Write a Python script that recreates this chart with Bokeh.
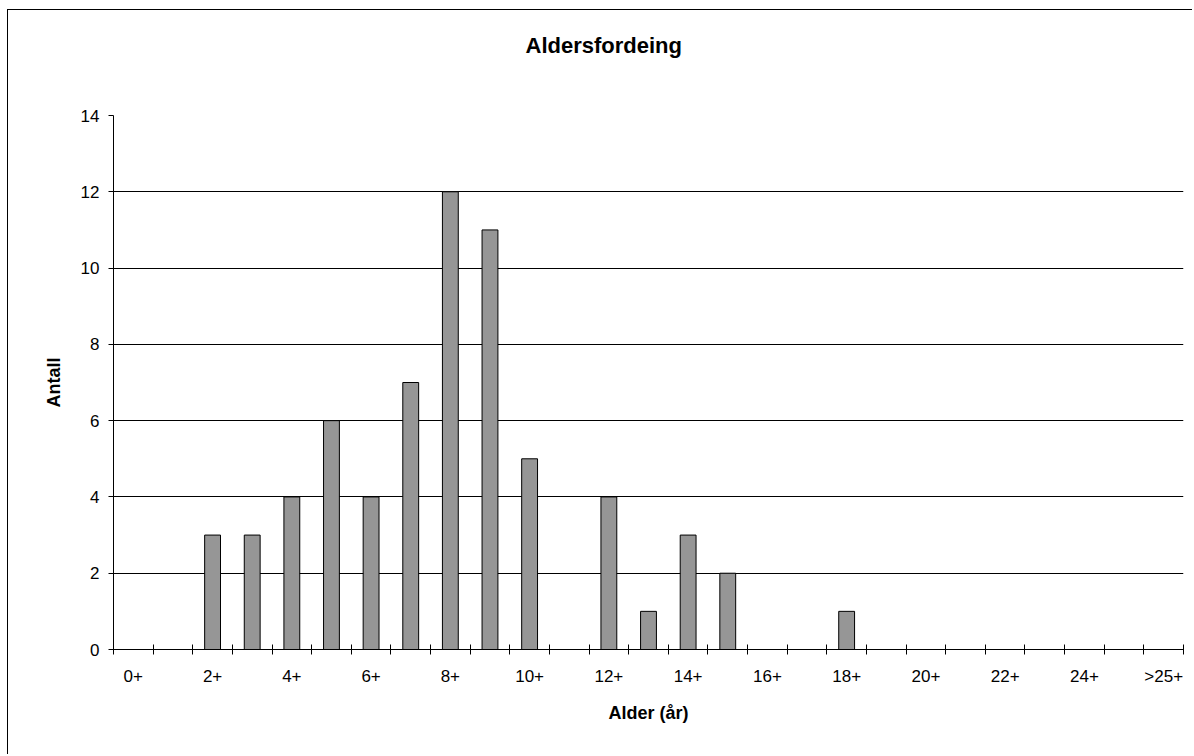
import numpy as np
from bokeh.plotting import figure
from bokeh.models import Range1d, FixedTicker, Title
from bokeh.embed import file_html
from bokeh.resources import INLINE

# ---- data ----
ages = ["0+", "1+", "2+", "3+", "4+", "5+", "6+", "7+", "8+", "9+", "10+", "11+", "12+",
        "13+", "14+", "15+", "16+", "17+", "18+", "19+", "20+", "21+", "22+", "23+",
        "24+", "25+", ">25+"]
counts = [0, 0, 3, 3, 4, 6, 4, 7, 12, 11, 5, 0, 4, 1, 3, 2, 0, 0, 1, 0, 0, 0, 0, 0, 0, 0, 0]
y_ticks = [0, 2, 4, 6, 8, 10, 12, 14]
title_text = "Aldersfordeing"
x_title = "Alder (år)"
y_title = "Antall"

n = len(ages)
centers = np.arange(n) + 0.5

FONT = "Liberation Sans"

p = figure(width=1185, height=745, output_backend="svg", toolbar_location=None,
           x_range=Range1d(0, n), y_range=Range1d(0, 14),
           min_border_left=105, min_border_right=10, min_border_top=105,
           min_border_bottom=106)
p.title = None
p.styles = {"margin-left": "7px", "margin-top": "9px",
            "border-top": "1px solid black", "border-left": "1px solid black"}
p.outline_line_color = None
p.background_fill_color = "white"
p.border_fill_color = "white"

p.vbar(x=centers, top=counts, width=0.4, fill_color="#969696", line_color="black",
       line_width=1)

# x axis: labels at every other category center, ticks at category boundaries
xa = p.xaxis[0]
label_pos = [float(c) for c in centers[::2]]
xa.ticker = FixedTicker(ticks=label_pos, minor_ticks=list(range(n + 1)))
xa.major_label_overrides = {float(c): ages[i * 2] for i, c in enumerate(label_pos)}
xa.major_tick_line_color = None
xa.major_tick_in = 0
xa.major_tick_out = 5
xa.minor_tick_line_color = "black"
xa.minor_tick_in = 5
xa.minor_tick_out = 5
xa.axis_line_color = "black"
xa.major_label_text_font = FONT
xa.major_label_text_font_size = "17px"
xa.major_label_text_color = "black"
xa.major_label_standoff = 12
xa.axis_label = x_title
xa.axis_label_text_font = FONT
xa.axis_label_text_font_size = "18px"
xa.axis_label_text_font_style = "bold"
xa.axis_label_text_color = "black"
xa.axis_label_standoff = 14

ya = p.yaxis[0]
ya.ticker = FixedTicker(ticks=y_ticks)
ya.minor_tick_line_color = None
ya.major_tick_in = 0
ya.major_tick_out = 5
ya.major_tick_line_color = "black"
ya.axis_line_color = "black"
ya.major_label_text_font = FONT
ya.major_label_text_font_size = "17px"
ya.major_label_text_color = "black"
ya.major_label_standoff = 9
ya.axis_label = y_title
ya.axis_label_text_font = FONT
ya.axis_label_text_font_size = "18px"
ya.axis_label_text_font_style = "bold"
ya.axis_label_text_color = "black"
ya.axis_label_standoff = 14

p.xgrid.grid_line_color = None
p.ygrid.ticker = FixedTicker(ticks=y_ticks)
p.ygrid.grid_line_color = "black"
p.ygrid.grid_line_width = 1

p.add_layout(Title(text=title_text + "\n", align="left", offset=412, standoff=21,
                   text_font=FONT, text_font_size="22px", text_font_style="bold",
                   text_line_height=1.9, text_color="black"), "above")

open("out.html", "w").write(file_html(p, INLINE))
